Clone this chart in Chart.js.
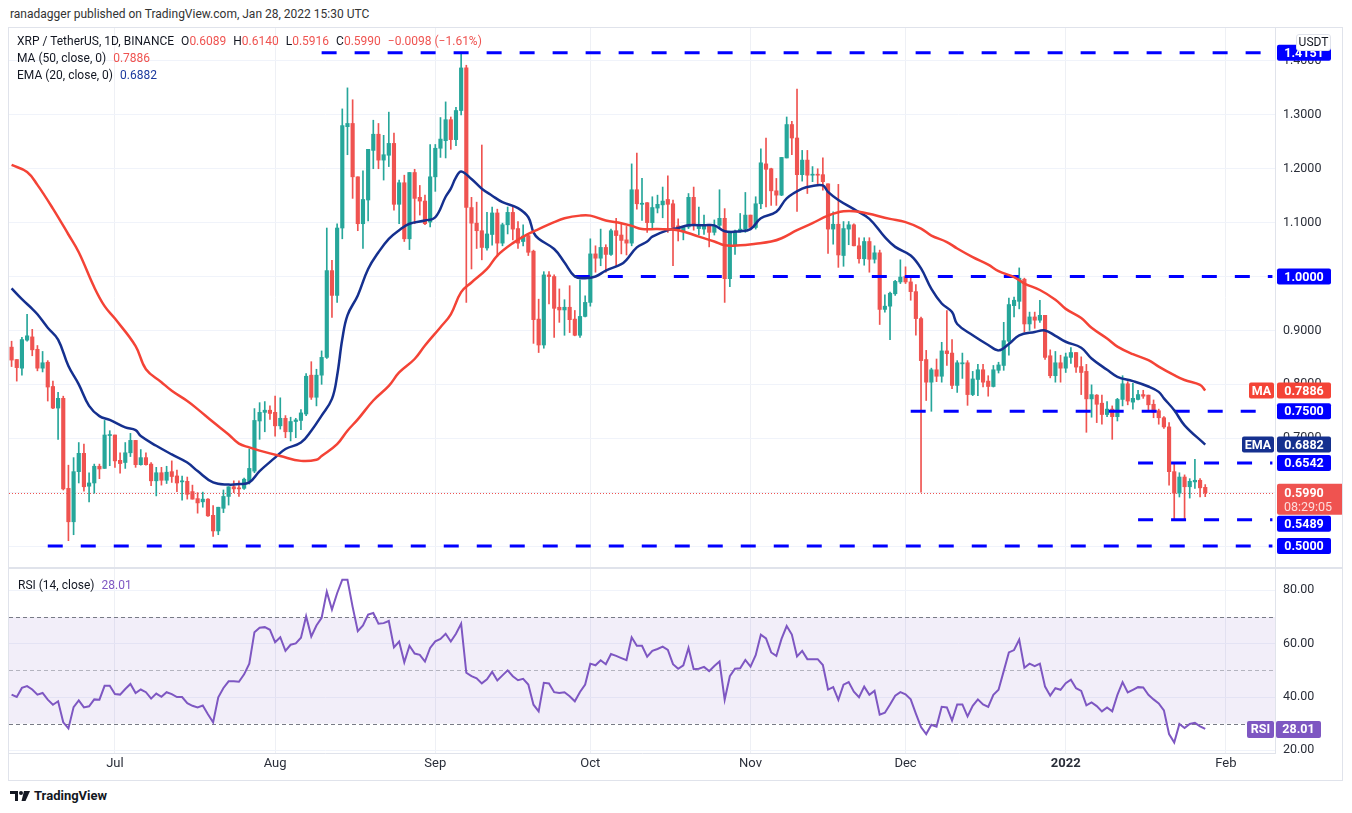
<!DOCTYPE html>
<html>
<head>
<meta charset="utf-8">
<script src="https://cdn.jsdelivr.net/npm/chart.js@4.4.1/dist/chart.umd.min.js"></script>
<style>
  body { margin: 0; background: #fff; font-family: Roboto, "Open Sans", sans-serif; color: #131722; }
  .abs { position: absolute; white-space: nowrap; }
  .t { font-size: 12px; }
  .lg { font-size: 12px; line-height: 17px; }
  .r { color: #ef5350; }
  .sp { margin-left: 7px; }
  #frame { position: absolute; left: 8px; top: 27px; width: 1335px; height: 754px; border: 1px solid #e0e3eb; box-sizing: border-box; }
  #sep { position: absolute; left: 8px; top: 567px; width: 1335px; height: 2px; background: #e0e3eb; }
  canvas { position: absolute; }
</style>
</head>
<body>
<div class="abs t" style="left:10px;top:7px;color:#333">ranadagger published on TradingView.com, Jan 28, 2022 15:30 UTC</div>
<div id="frame"></div>
<canvas id="priceChart" width="1333" height="539" style="left:9px;top:28px;width:1333px;height:539px"></canvas>
<div id="sep"></div>
<canvas id="rsiChart" width="1333" height="211" style="left:9px;top:569px;width:1333px;height:211px"></canvas>

<div class="abs lg" style="left:17px;top:33px">XRP / TetherUS, 1D, BINANCE<span class="sp">O</span><span class="r">0.6089</span><span class="sp">H</span><span class="r">0.6140</span><span class="sp">L</span><span class="r">0.5916</span><span class="sp">C</span><span class="r">0.5990</span><span class="sp r">&minus;0.0098 (&minus;1.61%)</span></div>
<div class="abs lg" style="left:17px;top:50px">MA (50, close, 0)<span class="sp r">0.7886</span></div>
<div class="abs lg" style="left:17px;top:67px">EMA (20, close, 0)<span class="sp" style="color:#1c3a9e">0.6882</span></div>
<div class="abs lg" style="left:18px;top:577px">RSI (14, close)<span class="sp" style="color:#7e57c2">28.01</span></div>
<div class="abs" style="left:1296px;top:34px;width:35px;height:17px;border:1px solid #e0e3eb;border-radius:3px;background:#fff;font-size:12px;line-height:15px;text-align:center;box-sizing:border-box">USDT</div>
<div class="abs" style="left:10px;top:788px;font-size:13px;font-weight:bold;color:#131722;display:flex;align-items:center">
  <svg width="20" height="12" viewBox="0 0 20 12" style="margin-right:4px"><path d="M0 1h8v10H5V4H0z" fill="#131722"/><circle cx="11" cy="3" r="2" fill="#131722"/><path d="M14 1h6l-4.5 10h-4z" fill="#131722"/></svg>TradingView
</div>

<script>
// XRP / USDT daily candles, 2021-06-11 .. 2022-01-28
const firstDay = Date.UTC(2021, 5, 11);
const dayCount = 245; // axis runs a bit past the last candle

const opens = [
  .869,.846,.830,.882,.888,.865,.830,.841,.796,.756,
  .774,.607,.545,.638,.672,.611,.617,.648,.644,.705,
  .706,.659,.655,.673,.696,.651,.664,.652,.621,.636,
  .622,.638,.630,.619,.620,.601,.588,.582,.587,.557,
  .528,.570,.592,.610,.608,.607,.620,.639,.732,.748,
  .752,.748,.723,.737,.712,.731,.733,.745,.817,.776,
  .817,.850,1.011,.965,1.090,1.278,1.284,1.185,1.098,1.142,
  1.234,1.264,1.216,1.225,1.247,1.134,1.174,1.070,1.193,1.147,
  1.140,1.101,1.185,1.238,1.252,1.291,1.254,1.308,1.387,1.128,
  1.099,1.085,1.053,1.078,1.118,1.062,1.096,1.119,1.089,1.065,
  1.076,1.047,.921,.873,1.003,1.000,.943,.938,.943,.921,
  .891,.926,.952,1.042,1.034,1.054,1.041,1.085,1.077,1.068,
  1.062,1.161,1.134,1.137,1.100,1.127,1.133,1.143,1.135,1.094,
  1.083,1.092,1.147,1.089,1.088,1.095,1.082,1.095,1.108,.996,
  1.058,1.083,1.088,1.114,1.091,1.135,1.209,1.200,1.159,1.151,
  1.220,1.282,1.257,1.189,1.216,1.188,1.189,1.189,1.172,1.088,
  1.097,1.039,1.088,1.096,1.057,1.033,1.065,1.032,1.044,.939,
  .945,.968,.990,1.000,.990,.972,.922,.846,.804,.827,
  .815,.862,.858,.798,.838,.840,.781,.809,.827,.806,
  .796,.826,.835,.880,.946,.954,.995,.912,.925,.919,
  .928,.853,.816,.840,.830,.850,.859,.833,.824,.773,
  .780,.765,.744,.754,.740,.772,.801,.767,.772,.781,
  .780,.763,.751,.738,.721,.638,.598,.628,.610,.619,
  .622,.6089
];
const highs = [
  .880,.846,.887,.930,.902,.872,.861,.844,.806,.785,
  .778,.650,.664,.692,.689,.636,.652,.652,.733,.714,
  .706,.673,.692,.709,.696,.679,.673,.655,.646,.646,
  .648,.658,.641,.630,.628,.613,.599,.600,.588,.575,
  .572,.604,.610,.621,.621,.626,.680,.755,.766,.768,
  .760,.778,.775,.742,.739,.737,.753,.820,.842,.828,
  .862,1.090,1.030,1.098,1.311,1.350,1.328,1.185,1.196,1.236,
  1.290,1.284,1.262,1.305,1.266,1.179,1.188,1.193,1.199,1.169,
  1.151,1.245,1.245,1.295,1.324,1.296,1.314,1.4151,1.392,1.147,
  1.138,1.244,1.119,1.129,1.125,1.099,1.129,1.129,1.102,1.096,
  1.077,1.049,.958,1.009,1.009,1.003,.977,.957,.983,.937,
  .994,.964,1.070,1.057,1.088,1.059,1.088,1.108,1.098,1.093,
  1.209,1.229,1.182,1.137,1.148,1.151,1.166,1.187,1.142,1.107,
  1.092,1.154,1.166,1.129,1.114,1.097,1.105,1.161,1.126,1.084,
  1.086,1.117,1.156,1.114,1.148,1.237,1.257,1.201,1.182,1.221,
  1.296,1.288,1.348,1.234,1.234,1.204,1.200,1.220,1.172,1.120,
  1.171,1.102,1.102,1.098,1.072,1.072,1.072,1.057,1.049,.966,
  .971,.993,1.031,1.018,.999,.985,.925,.863,.830,.847,
  .878,.937,.883,.844,.858,.844,.824,.837,.837,.816,
  .835,.841,.915,.960,.962,1.016,.997,.934,.934,.956,
  .928,.864,.861,.854,.858,.868,.859,.851,.837,.799,
  .781,.780,.768,.760,.774,.816,.805,.802,.789,.789,
  .780,.771,.754,.740,.729,.655,.636,.632,.625,.661,
  .625,.6140
];
const lows = [
  .833,.806,.817,.880,.853,.825,.823,.769,.755,.698,
  .604,.510,.521,.617,.602,.582,.598,.625,.644,.649,
  .646,.635,.644,.666,.646,.650,.650,.612,.593,.613,
  .616,.618,.601,.585,.587,.587,.561,.572,.555,.518,
  .521,.562,.576,.599,.592,.605,.615,.636,.698,.712,
  .735,.704,.717,.701,.695,.701,.716,.742,.772,.760,
  .800,.848,.924,.952,1.070,1.226,1.145,1.085,1.052,1.103,
  1.200,1.200,1.179,1.204,1.123,1.098,1.065,1.050,1.098,1.114,
  1.096,1.092,1.158,1.221,1.220,1.236,1.243,1.300,.952,1.014,
  1.052,1.031,1.049,1.058,1.037,1.057,1.079,1.068,1.052,1.057,
  1.039,.876,.859,.867,.949,.887,.915,.891,.896,.890,
  .887,.925,.945,1.008,1.020,1.008,1.039,1.019,1.042,1.040,
  1.057,1.125,1.104,1.082,1.090,1.118,1.109,1.082,1.020,1.066,
  1.068,1.089,1.086,1.077,1.078,1.055,1.077,1.089,.952,.981,
  1.041,1.082,1.082,1.089,1.088,1.126,1.129,1.132,1.132,1.150,
  1.220,1.226,1.121,1.177,1.154,1.176,1.169,1.160,1.043,1.060,
  1.017,1.019,1.059,1.057,1.025,1.021,1.008,1.025,.911,.934,
  .883,.965,.987,.987,.956,.891,.600,.770,.750,.805,
  .804,.835,.792,.785,.811,.761,.779,.779,.795,.778,
  .795,.821,.826,.854,.925,.940,.897,.900,.904,.915,
  .846,.812,.804,.804,.822,.839,.822,.781,.711,.739,
  .729,.726,.740,.698,.732,.760,.762,.754,.771,.774,
  .752,.738,.726,.718,.613,.549,.591,.549,.589,.607,
  .591,.5916
];
const closes = [
  .845,.831,.883,.890,.864,.830,.840,.795,.756,.774,
  .606,.545,.638,.672,.610,.617,.648,.643,.706,.706,
  .658,.653,.673,.696,.651,.664,.651,.621,.636,.622,
  .637,.629,.617,.621,.596,.587,.580,.587,.556,.528,
  .572,.592,.610,.606,.606,.624,.644,.733,.748,.752,
  .746,.723,.737,.712,.731,.734,.747,.815,.776,.817,
  .850,1.011,.965,1.090,1.280,1.284,1.185,1.098,1.143,1.236,
  1.264,1.216,1.226,1.247,1.134,1.174,1.070,1.193,1.145,1.140,
  1.098,1.185,1.238,1.255,1.291,1.254,1.308,1.387,1.128,1.099,
  1.085,1.054,1.079,1.118,1.062,1.096,1.119,1.088,1.062,1.075,
  1.045,.920,.873,1.003,1.000,.941,.938,.943,.920,.891,
  .926,.952,1.042,1.034,1.054,1.041,1.085,1.076,1.067,1.062,
  1.161,1.135,1.136,1.100,1.128,1.134,1.140,1.134,1.091,1.086,
  1.092,1.147,1.095,1.097,1.095,1.082,1.095,1.108,.996,1.084,
  1.084,1.088,1.114,1.091,1.135,1.211,1.199,1.159,1.151,1.221,
  1.282,1.257,1.189,1.216,1.188,1.189,1.188,1.176,1.088,1.097,
  1.040,1.089,1.096,1.057,1.033,1.065,1.032,1.044,.939,.945,
  .969,.991,.999,.990,.972,.922,.844,.804,.827,.815,
  .862,.857,.798,.840,.840,.781,.810,.827,.804,.796,
  .827,.836,.881,.948,.956,.997,.912,.925,.919,.928,
  .850,.816,.840,.830,.851,.859,.832,.822,.773,.781,
  .763,.744,.754,.740,.772,.801,.769,.774,.781,.778,
  .762,.748,.738,.721,.638,.598,.628,.610,.620,.622,
  .608,.5990
];

// MA 50 and EMA 20 at these candle numbers
const maIdx = [0,3,5,8,11,13,16,18,20,24, 26,29,31,34,36,39,42,44,46,48,
  52,56,59,60,63,65,67,70,73,75, 78,80,83,85,87,89,92,94,97,100,
  102,105,107,110,112,115,118,120,122,125, 129,133,136,138,141,144,147,149,152,155,
  158,161,164,170,173,176,178,181,183,186, 189,191,194,196,199,202,204,207,209,212,
  214,217,220,222,225,227,230,231];
const maVal = [1.207,1.194,1.170,1.126,1.078,1.045,0.980,0.945,0.922,0.871,
  0.828,0.804,0.788,0.769,0.754,0.730,0.707,0.690,0.683,0.677,
  0.667,0.658,0.660,0.667,0.689,0.714,0.735,0.770,0.797,0.822,
  0.847,0.872,0.906,0.930,0.971,0.989,1.014,1.039,1.062,1.079,
  1.088,1.101,1.108,1.113,1.113,1.104,1.099,1.094,1.088,1.088,
  1.086,1.074,1.065,1.058,1.058,1.061,1.065,1.071,1.086,1.099,
  1.113,1.121,1.120,1.107,1.101,1.089,1.076,1.064,1.052,1.036,
  1.022,1.010,0.999,0.987,0.975,0.957,0.940,0.923,0.905,0.885,
  0.870,0.856,0.845,0.833,0.817,0.808,0.799,0.7886];
const emaIdx = [0,2,4,5,7,9,11,13,15,17, 19,22,24,25,28,31,34,36,39,42,
  44,46,48,51,53,56,58,60,62,63, 64,65,67,69,71,73,75,77,80,82,
  84,85,86,87,89,91,93,95,98,100, 101,102,105,107,109,111,113,115,118,119,
  121,123,124,127,129,131,134,136,138,141, 143,145,148,150,153,155,157,158,160,163,
  166,169,171,174,176,178,180,182,183,186, 189,191,193,195,198,200,202,204,207,209,
  212,214,217,220,222,223,225,227,231];
const emaVal = [0.978,0.958,0.940,0.930,0.905,0.883,0.834,0.800,0.760,0.741,
  0.734,0.720,0.715,0.704,0.686,0.670,0.655,0.639,0.618,0.614,
  0.615,0.618,0.639,0.664,0.680,0.692,0.714,0.742,0.773,0.816,
  0.884,0.928,0.965,1.014,1.045,1.070,1.086,1.098,1.104,1.110,
  1.148,1.163,1.184,1.195,1.181,1.163,1.150,1.138,1.127,1.110,
  1.082,1.070,1.051,1.026,1.000,0.997,1.000,1.011,1.023,1.031,
  1.054,1.065,1.074,1.086,1.090,1.095,1.095,1.095,1.084,1.084,
  1.088,1.108,1.120,1.145,1.163,1.168,1.169,1.157,1.142,1.125,
  1.107,1.073,1.055,1.039,1.015,0.977,0.950,0.934,0.912,0.891,
  0.873,0.863,0.875,0.891,0.897,0.900,0.890,0.879,0.868,0.848,
  0.827,0.814,0.806,0.796,0.786,0.774,0.752,0.724,0.6882];

// horizontal levels and the candle where each one starts
const levels = [1.4151, 1.0000, 0.7500, 0.6542, 0.5489, 0.5000];
const levelStart = [60, 109, 174, 218, 218, 7];

const rsi = [
  40.9,40.0,43.4,44.1,42.8,40.9,41.5,39.0,37.1,38.4,
  30.5,28.2,36.2,38.7,36.1,36.5,39.1,39.0,44.2,44.2,
  41.1,40.9,43.0,44.9,41.5,42.8,41.8,39.4,41.3,40.1,
  41.8,41.1,40.0,40.0,37.7,36.7,36.1,36.8,33.5,30.5,
  39.9,43.4,45.9,45.9,45.7,48.5,52.5,64.3,66.0,66.2,
  65.2,60.5,62.4,57.3,59.6,60.1,62.2,70.3,62.7,66.8,
  69.7,79.5,72.8,78.9,84.0,84.0,73.8,64.7,66.8,70.9,
  71.5,67.5,67.7,68.5,58.6,60.8,53.0,59.2,56.3,55.8,
  53.3,58.4,60.9,61.8,63.7,60.8,63.7,67.5,49.1,47.8,
  47.0,45.1,46.6,49.4,46.2,48.1,50.0,47.8,46.3,46.8,
  44.7,37.1,34.6,45.3,45.1,41.8,41.5,41.8,40.3,38.4,
  41.9,44.7,52.5,51.9,53.8,52.3,56.1,55.4,54.6,53.8,
  62.4,59.2,59.2,55.1,57.3,58.0,58.9,57.7,52.3,50.6,
  51.9,58.4,50.4,50.6,51.3,49.7,51.6,53.3,39.0,47.8,
  50.6,50.8,53.9,51.4,55.7,63.4,62.0,56.7,55.4,61.8,
  66.6,63.4,55.2,57.3,54.2,54.2,54.2,52.0,42.8,43.7,
  38.9,44.6,45.6,42.0,39.9,43.9,40.8,42.3,33.4,34.1,
  37.2,40.5,41.8,41.0,39.1,33.8,28.7,26.1,29.6,28.9,
  36.3,36.1,31.2,37.2,37.2,32.7,36.7,39.1,37.2,36.3,
  40.8,42.7,49.7,56.7,57.6,61.5,51.0,52.5,51.6,52.5,
  43.9,40.5,43.3,42.7,45.2,46.5,43.3,42.3,36.9,38.0,
  36.6,34.6,36.1,34.6,40.8,45.6,41.7,42.7,43.7,43.6,
  40.8,39.1,37.6,35.0,26.1,22.9,29.9,28.4,29.9,30.3,
  29.0,28.01
];

const priceTicks = [0.5, 0.6, 0.7, 0.8, 0.9, 1.0, 1.1, 1.2, 1.3, 1.4];
const rsiTicks = [20, 40, 60, 80];
const monthNames = ['Jan','Feb','Mar','Apr','May','Jun','Jul','Aug','Sep','Oct','Nov','Dec'];
const UP = '#26a69a', DOWN = '#ef5350';
const MA_COLOR = '#f44336', EMA_COLOR = '#15308f', LEVEL_COLOR = '#0000ff', RSI_COLOR = '#7e57c2';

let days = [], labels = [];
for (let i = 0; i < dayCount; i++) {
    let d = new Date(firstDay + i * 86400000);
    days.push(d);
    labels.push(d.toISOString().slice(0, 10));
}
function monthLabel(i) {
    const d = days[i];
    if (!d || d.getUTCDate() !== 1) return '';
    return d.getUTCMonth() === 0 ? String(d.getUTCFullYear()) : monthNames[d.getUTCMonth()];
}
function monthGrid(ctx) {
    return monthLabel(ctx.index) ? '#eef0f5' : 'rgba(0,0,0,0)';
}
function sparse(idx, val) {
    let arr = new Array(dayCount).fill(null);
    idx.forEach((d, k) => { arr[d] = val[k]; });
    return arr;
}

let candleColors = closes.map((c, i) => c >= opens[i] ? UP : DOWN);
let bodies = closes.map((c, i) => [opens[i], c]);
let wicks = closes.map((c, i) => [lows[i], highs[i]]);

let levelSets = levels.map((v, k) => ({
    type: 'line',
    data: sparse([levelStart[k], dayCount - 1], [v, v]),
    borderColor: LEVEL_COLOR,
    borderWidth: 3,
    borderDash: [15, 18],
    pointRadius: 0,
    spanGaps: true,
    order: 0
}));

function fixWidth(s) {
    s.width = 67;
    s.paddingTop = 0;
    s.paddingBottom = 0;
}

function roundBox(ctx, x, y, w, h, bg) {
    ctx.fillStyle = bg;
    ctx.beginPath();
    ctx.roundRect(x, y, w, h, 2);
    ctx.fill();
}

// price line + coloured labels on the price scale
const priceLabels = {
    id: 'priceLabels',
    beforeDatasetsDraw(chart) {
        const {ctx, chartArea: a} = chart;
        const py = Math.round(chart.scales.y.getPixelForValue(closes[closes.length - 1])) + 0.5;
        ctx.save();
        ctx.strokeStyle = DOWN;
        ctx.lineWidth = 1;
        ctx.setLineDash([1, 2]);
        ctx.beginPath();
        ctx.moveTo(a.left, py);
        ctx.lineTo(a.right, py);
        ctx.stroke();
        ctx.restore();
    },
    afterDraw(chart) {
        const {ctx, chartArea: a} = chart;
        const ys = chart.scales.y;
        let items = levels.map(v => ({v: v, text: v.toFixed(4), bg: LEVEL_COLOR, h: 16, off: 8}));
        items.push({v: maVal[maVal.length - 1], text: maVal[maVal.length - 1].toFixed(4), bg: MA_COLOR, h: 16, off: 8, name: 'MA', nameW: 26});
        items.push({v: emaVal[emaVal.length - 1], text: emaVal[emaVal.length - 1].toFixed(4), bg: EMA_COLOR, h: 16, off: 8, name: 'EMA', nameW: 33});
        items.push({v: closes[closes.length - 1], text: closes[closes.length - 1].toFixed(4), bg: DOWN, h: 31, off: 9, sub: '08:29:05', w: 66});
        items.forEach(it => { it.y = ys.getPixelForValue(it.v); it.top = it.y - it.off; });
        items.sort((p, q) => p.y - q.y);
        for (let i = 1; i < items.length; i++) {
            const prev = items[i - 1];
            const lim = prev.top + prev.h + 1;
            if (items[i].top < lim) {
                const sh = lim - items[i].top;
                items[i].top += sh;
                items[i].y += sh;
            }
        }
        ctx.save();
        ctx.textAlign = 'center';
        ctx.textBaseline = 'middle';
        const x0 = a.right + 2;
        for (const it of items) {
            const w = it.w || 54;
            roundBox(ctx, x0, it.top, w, it.h, it.bg);
            ctx.fillStyle = '#fff';
            ctx.font = 'bold 12.5px Roboto, sans-serif';
            ctx.fillText(it.text, x0 + 27, it.y + 1);
            if (it.sub) {
                ctx.font = '12.5px Roboto, sans-serif';
                ctx.fillStyle = 'rgba(255,255,255,0.8)';
                ctx.fillText(it.sub, x0 + 31, it.y + 15);
            }
            if (it.name) {
                roundBox(ctx, a.right - it.nameW, it.top, it.nameW - 1, it.h, it.bg);
                ctx.fillStyle = '#fff';
                ctx.font = 'bold 12.5px Roboto, sans-serif';
                ctx.fillText(it.name, a.right - it.nameW / 2 - 0.5, it.y + 1);
            }
        }
        ctx.restore();
    }
};

new Chart(document.getElementById('priceChart'), {
    type: 'bar',
    data: {
        labels: labels,
        datasets: [
            {type: 'line', label: 'MA', data: sparse(maIdx, maVal), borderColor: MA_COLOR, borderWidth: 2.5,
             pointRadius: 0, spanGaps: true, tension: 0.4, order: 0},
            {type: 'line', label: 'EMA', data: sparse(emaIdx, emaVal), borderColor: EMA_COLOR, borderWidth: 2.5,
             pointRadius: 0, spanGaps: true, tension: 0.4, order: 0},
            ...levelSets,
            {label: 'body', data: bodies, backgroundColor: candleColors, barThickness: 3.5,
             grouped: false, minBarLength: 1, order: 1},
            {label: 'wick', data: wicks, backgroundColor: candleColors, barThickness: 1,
             grouped: false, order: 2}
        ]
    },
    options: {
        responsive: false,
        animation: false,
        layout: {padding: 0},
        plugins: {legend: {display: false}, tooltip: {enabled: false}},
        scales: {
            x: {
                offset: true,
                ticks: {display: false, autoSkip: false},
                grid: {offset: false, drawTicks: false, color: monthGrid},
                border: {display: false}
            },
            y: {
                position: 'right',
                min: 0.4611,
                max: 1.4611,
                afterBuildTicks: s => { s.ticks = priceTicks.map(v => ({value: v})); },
                ticks: {padding: 8, color: '#2a2e39',
                        font: {size: 12.5, family: 'Roboto'}, callback: v => v.toFixed(4)},
                grid: {color: '#f0f3fa', drawTicks: false},
                border: {color: '#e0e3eb'},
                afterFit: fixWidth
            }
        }
    },
    plugins: [priceLabels]
});

// RSI band, guide lines and value label
const rsiDecor = {
    id: 'rsiDecor',
    beforeDatasetsDraw(chart) {
        const {ctx, chartArea: a} = chart;
        const ys = chart.scales.y;
        const y70 = ys.getPixelForValue(70), y30 = ys.getPixelForValue(30), y50 = ys.getPixelForValue(50);
        ctx.save();
        ctx.fillStyle = 'rgba(126,87,194,0.1)';
        ctx.fillRect(a.left, y70, a.right - a.left, y30 - y70);
        ctx.lineWidth = 1;
        ctx.setLineDash([4, 3]);
        ctx.strokeStyle = '#787b86';
        for (const y of [y70, y30]) {
            ctx.beginPath();
            ctx.moveTo(a.left, Math.round(y) + 0.5);
            ctx.lineTo(a.right, Math.round(y) + 0.5);
            ctx.stroke();
        }
        ctx.strokeStyle = 'rgba(120,123,134,0.5)';
        ctx.beginPath();
        ctx.moveTo(a.left, Math.round(y50) + 0.5);
        ctx.lineTo(a.right, Math.round(y50) + 0.5);
        ctx.stroke();
        ctx.restore();
    },
    afterDraw(chart) {
        const {ctx, chartArea: a} = chart;
        const last = rsi[rsi.length - 1];
        const y = chart.scales.y.getPixelForValue(last);
        ctx.save();
        roundBox(ctx, a.right + 1, y - 8, 45, 17, RSI_COLOR);
        roundBox(ctx, a.right - 28, y - 8, 27, 17, RSI_COLOR);
        ctx.fillStyle = '#fff';
        ctx.font = 'bold 12.5px Roboto, sans-serif';
        ctx.textAlign = 'center';
        ctx.textBaseline = 'middle';
        ctx.fillText(last.toFixed(2), a.right + 23.5, y + 1);
        ctx.fillText('RSI', a.right - 14.5, y + 1);
        ctx.restore();
    }
};

new Chart(document.getElementById('rsiChart'), {
    type: 'line',
    data: {
        labels: labels,
        datasets: [{label: 'RSI', data: rsi, borderColor: RSI_COLOR, borderWidth: 2, pointRadius: 0, tension: 0}]
    },
    options: {
        responsive: false,
        animation: false,
        layout: {padding: 0},
        plugins: {legend: {display: false}, tooltip: {enabled: false}},
        scales: {
            x: {
                offset: true,
                ticks: {autoSkip: false, maxRotation: 0, padding: 3, color: '#2a2e39',
                        font: ctx => ({size: 13, family: 'Roboto', weight: monthLabel(ctx.index) === '2022' ? 'bold' : 'normal'}),
                        callback: (v, i) => monthLabel(i)},
                grid: {offset: false, drawTicks: false, color: monthGrid},
                border: {color: '#e0e3eb'},
                afterFit: s => { s.height = 27; s.paddingLeft = 0; s.paddingRight = 0; }
            },
            y: {
                position: 'right',
                min: 19,
                max: 88,
                afterBuildTicks: s => { s.ticks = rsiTicks.map(v => ({value: v})); },
                ticks: {padding: 8, color: '#2a2e39',
                        font: {size: 12.5, family: 'Roboto'}, callback: v => v.toFixed(2)},
                grid: {color: '#f0f3fa', drawTicks: false},
                border: {color: '#e0e3eb'},
                afterFit: fixWidth
            }
        }
    },
    plugins: [rsiDecor]
});
</script>
</body>
</html>
